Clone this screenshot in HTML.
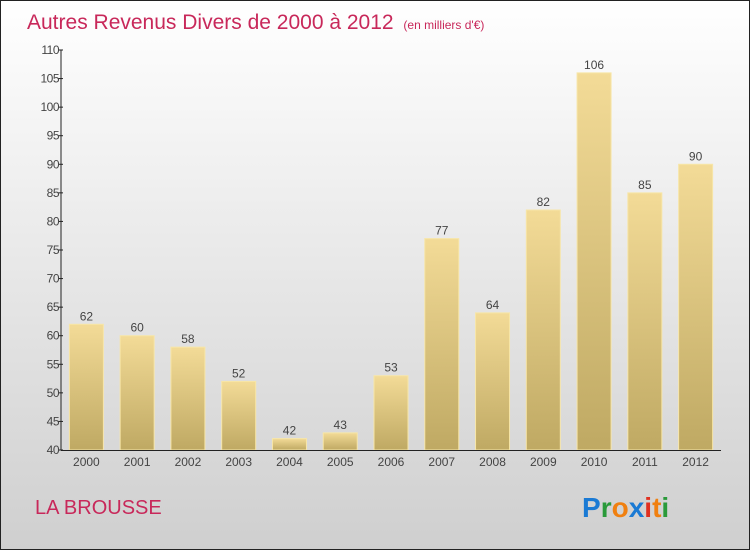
<!DOCTYPE html>
<html><head><meta charset="utf-8"><style>
body{margin:0;}
#wrap{width:750px;height:550px;position:relative;overflow:hidden;}
svg{position:absolute;left:0;top:0;font-family:"Liberation Sans",sans-serif;}
</style></head><body>
<div id="wrap">
<svg id="chart" width="750" height="550">
<defs>
<linearGradient id="bg" x1="0" y1="0" x2="0" y2="1"><stop offset="0" stop-color="#ffffff"/><stop offset="1" stop-color="#cfcfcf"/></linearGradient>
<linearGradient id="barg" x1="0" y1="0" x2="0" y2="1"><stop offset="0" stop-color="#f3db97"/><stop offset="1" stop-color="#bfa963"/></linearGradient>
</defs>
<rect x="0.5" y="0.5" width="749" height="549" fill="url(#bg)" stroke="#222"/>
<text x="27" y="29" font-size="21" fill="#c8285a">Autres Revenus Divers de 2000 à 2012 <tspan font-size="12" dx="4">(en milliers d'€)</tspan></text>
<text x="35" y="514" font-size="20" fill="#c8285a">LA BROUSSE</text>
<g font-size="28" font-weight="bold" font-family="'Liberation Sans',sans-serif">
<text x="582" y="517" fill="#1a7ad4">P<tspan fill="#2a9a3a">r</tspan><tspan fill="#f08010">o</tspan><tspan fill="#1a7ad4">x</tspan><tspan fill="#e03020">i</tspan><tspan fill="#f08010">t</tspan><tspan fill="#2a9a3a">i</tspan></text>
</g>
<g id="plot"></g>
</svg>
</div>
<script>
const categories=["2000","2001","2002","2003","2004","2005","2006","2007","2008","2009","2010","2011","2012"];
const values=[62,60,58,52,42,43,53,77,64,82,106,85,90];
const yTicks=[40,45,50,55,60,65,70,75,80,85,90,95,100,105,110];
const NS="http://www.w3.org/2000/svg";
const plotG=document.getElementById('plot');
const yMin=40,yMax=110,plotTop=50,plotBot=450,plotLeft=61,plotRight=721;
const yS=v=>plotBot-(v-yMin)/(yMax-yMin)*(plotBot-plotTop);
const step=(plotRight-plotLeft)/categories.length;
const xS=i=>plotLeft+step*(i+0.5);
function mk(t,a){const e=document.createElementNS(NS,t);for(const k in a)e.setAttribute(k,a[k]);plotG.appendChild(e);return e;}
values.forEach((v,i)=>{
 const r=mk('rect',{x:xS(i)-17,y:yS(v),width:34,height:plotBot-yS(v),fill:'url(#barg)',stroke:'#f7e6a8','stroke-width':1});
 
 
 const t=mk('text',{x:xS(i),y:yS(v)-4,'text-anchor':'middle','font-size':12,fill:'#444'});
 t.textContent=v;
 
 
 const c=mk('text',{x:xS(i),y:plotBot+16,'text-anchor':'middle','font-size':12,fill:'#444'});
 c.textContent=categories[i];
 
 
});
yTicks.forEach(v=>{
 const l=mk('line',{x1:plotLeft-3,x2:plotLeft+2,y1:yS(v),y2:yS(v),stroke:'#222'});
 
 
 const t=mk('text',{x:plotLeft-2,y:yS(v)+4,'text-anchor':'end','font-size':12,fill:'#444','letter-spacing':'-0.5'});
 t.textContent=v;
 
 
});
const ya=mk('line',{x1:plotLeft,x2:plotLeft,y1:plotTop,y2:plotBot,stroke:'#222'});


const xa=mk('line',{x1:plotLeft,x2:plotRight,y1:plotBot+0.5,y2:plotBot+0.5,stroke:'#222'});


</script>
</body></html>
